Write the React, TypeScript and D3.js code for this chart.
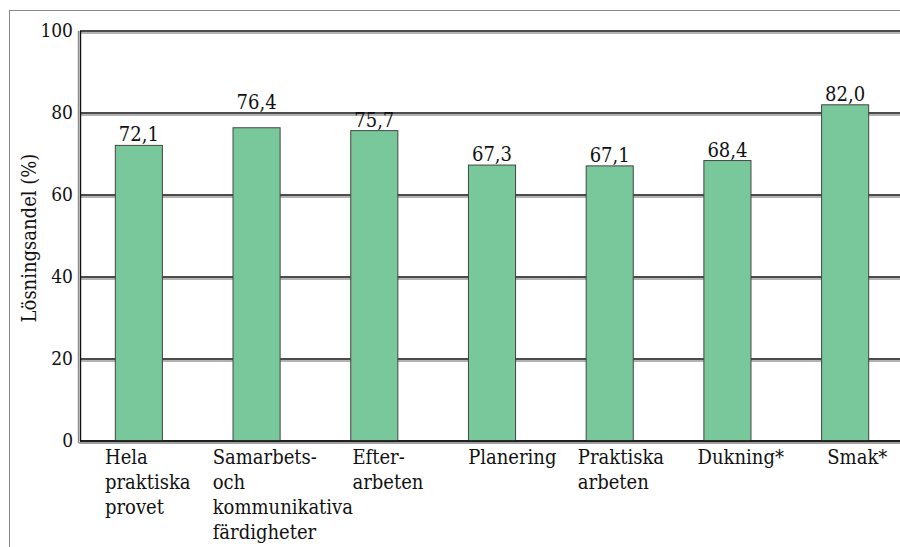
import React from "react";
import * as d3 from "d3";

const categories: string[][] = [
  ["Hela", "praktiska", "provet"],
  ["Samarbets-", "och", "kommunikativa", "färdigheter"],
  ["Efter-", "arbeten"],
  ["Planering"],
  ["Praktiska", "arbeten"],
  ["Dukning*"],
  ["Smak*"],
];
const values: number[] = [72.1, 76.4, 75.7, 67.3, 67.1, 68.4, 82.0];
const yTicks: number[] = [0, 20, 40, 60, 80, 100];
const labelShift: number[] = [25, 15, 37, 35, 27, 29, 41];
const valueLabelLift: number[] = [0, 15, 0, 0, 0, 0, 0];

const W = 900;
const H = 547;
const FONT = "'DejaVu Serif Condensed', 'DejaVu Serif', serif";

export default function App() {
  const left = 80;
  const right = 904;
  const top = 31;
  const bottom = 441;
  const x = d3.scaleBand<number>().domain(d3.range(values.length)).range([left, right]).padding(0);
  const y = d3.scaleLinear().domain([0, 100]).range([bottom, top]);
  const bw = x.bandwidth() * 0.4;
  const fmt = (v: number) => v.toFixed(1).replace(".", ",");

  return (
    <svg
      width={W}
      height={H}
      style={{ position: "absolute", left: 0, top: 0, fontFamily: FONT, fontStretch: "condensed" }}
    >
      <rect x={0} y={0} width={W} height={H} fill="#fff" />
      <rect x={9.5} y={10.5} width={W} height={H} fill="none" stroke="#888" strokeWidth={1} />
      {/* gridlines */}
      {yTicks.map((t) => (
        <g key={t}>
          <line x1={left} x2={W} y1={y(t) + 2} y2={y(t) + 2} stroke="#999" strokeWidth={1.4} />
          <line x1={left} x2={W} y1={y(t)} y2={y(t)} stroke="#111" strokeWidth={1.4} />
        </g>
      ))}
      {/* left axis double line */}
      <line x1={left - 1.5} x2={left - 1.5} y1={top} y2={bottom + 2} stroke="#888" strokeWidth={1.4} />
      <line x1={left + 0.5} x2={left + 0.5} y1={top} y2={bottom} stroke="#111" strokeWidth={1.4} />
      {/* tick labels */}
      {yTicks.map((t) => (
        <text key={t} x={73} y={y(t) + 6} textAnchor="end" fontSize={19} fill="#111">
          {t}
        </text>
      ))}
      {/* bars */}
      {values.map((v, i) => {
        const cx = (x(i) as number) + x.bandwidth() / 2;
        return (
          <g key={i}>
            <rect
              x={cx - bw / 2}
              y={y(v)}
              width={bw}
              height={bottom - y(v)}
              fill="#79c89b"
              stroke="#444"
              strokeWidth={1}
            />
            <text x={cx} y={y(v) - 4 - valueLabelLift[i]} textAnchor="middle" fontSize={20} fill="#111">
              {fmt(v)}
            </text>
          </g>
        );
      })}
      {/* bottom axis */}
      <line x1={left - 1.5} x2={W} y1={bottom + 2} y2={bottom + 2} stroke="#999" strokeWidth={1.4} />
      <line x1={left} x2={W} y1={bottom} y2={bottom} stroke="#111" strokeWidth={1.6} />
      {/* category labels */}
      {categories.map((lines, i) => (
        <text key={i} fontSize={20} fill="#111">
          {lines.map((ln, j) => (
            <tspan key={j} x={(x(i) as number) + labelShift[i]} y={464 + j * 25}>
              {ln}
            </tspan>
          ))}
        </text>
      ))}
      {/* y title */}
      <text
        transform={`translate(36, ${(top + bottom) / 2 + 2}) rotate(-90)`}
        textAnchor="middle"
        fontSize={20}
        fill="#111"
      >
        Lösningsandel (%)
      </text>
    </svg>
  );
}
